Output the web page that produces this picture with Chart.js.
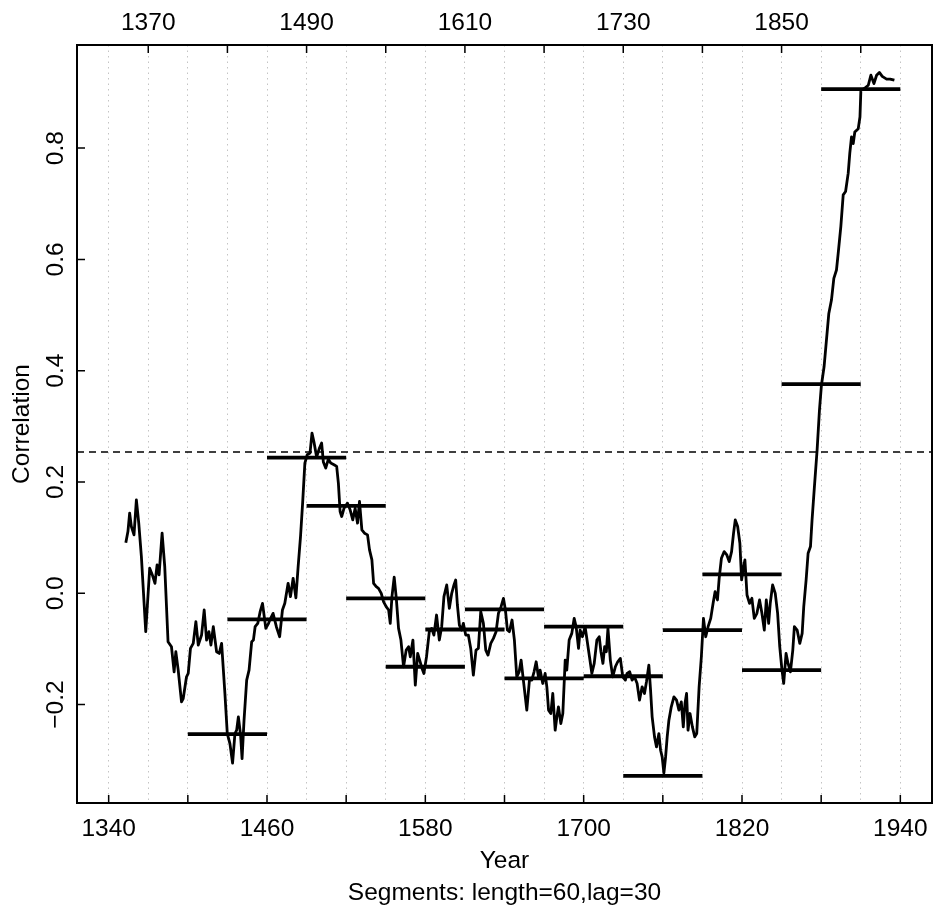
<!DOCTYPE html>
<html>
<head>
<meta charset="utf-8">
<script src="https://cdn.jsdelivr.net/npm/chart.js@4.4.1/dist/chart.umd.min.js"></script>
<style>
  html, body { margin: 0; padding: 0; background: #fff; }
  #wrap { width: 933px; height: 909px; }
</style>
</head>
<body>
<div id="wrap"><canvas id="segChart"></canvas></div>
<script>
// running correlation (year, r)
const years = [
  1353.0, 1354.6, 1355.9, 1357.2, 1359.2, 1361.0, 1362.8, 1364.8, 1368.1, 1371.1,
  1373.1, 1375.1, 1376.7, 1378.2, 1380.5, 1382.5, 1385.0, 1387.6, 1389.6, 1390.9,
  1392.7, 1395.2, 1396.5, 1399.0, 1400.3, 1402.0, 1404.1, 1406.1, 1407.9, 1410.4,
  1412.4, 1414.2, 1416.0, 1417.5, 1419.3, 1421.8, 1423.8, 1425.6, 1428.1, 1429.9,
  1431.9, 1433.9, 1435.7, 1437.0, 1438.3, 1440.0, 1441.1, 1442.6, 1444.6, 1446.4,
  1448.4, 1449.7, 1451.0, 1453.0, 1454.8, 1456.6, 1458.1, 1459.1, 1461.2,
  1462.1, 1464.6, 1467.1, 1469.6, 1471.7, 1473.5, 1476.0, 1477.8, 1479.8, 1481.9,
  1483.6, 1485.4, 1487.0, 1488.7, 1490.5, 1492.6, 1494.1, 1495.6, 1497.6, 1499.6,
  1501.4, 1502.7, 1504.5, 1506.5, 1508.3, 1510.8, 1512.8, 1514.1, 1515.4, 1516.6,
  1518.4, 1521.0, 1523.0, 1525.0, 1526.8, 1528.6, 1530.1, 1531.9, 1533.9, 1536.2,
  1537.7, 1539.5, 1540.8, 1542.8, 1544.5, 1546.6, 1548.3, 1550.3, 1552.2, 1553.4,
  1554.7, 1556.4, 1558.0, 1559.7, 1561.5, 1563.5, 1565.5, 1567.3, 1568.6, 1570.6,
  1572.4, 1574.2,
  1575.7, 1577.5, 1578.9, 1580.9, 1583.0, 1584.8, 1586.5, 1588.5, 1590.6, 1592.4,
  1594.1, 1596.2, 1598.2, 1600.0, 1601.7, 1603.0, 1604.3, 1605.8, 1607.6, 1608.8,
  1610.6, 1612.6, 1614.4, 1616.4, 1618.4, 1620.2, 1622.0, 1624.0, 1625.8, 1627.5,
  1629.6, 1631.6, 1633.6, 1635.4, 1637.4, 1639.2, 1640.7, 1642.2, 1643.7, 1645.7,
  1647.5, 1649.3, 1651.1, 1652.6, 1654.3, 1656.9, 1658.9, 1660.7, 1662.4, 1664.0,
  1665.7, 1667.0, 1669.0, 1670.8, 1672.1, 1673.4, 1675.1, 1676.6, 1678.4, 1679.7,
  1680.9, 1682.7, 1684.2, 1686.0, 1687.2, 1689.0, 1691.0, 1692.8, 1694.3, 1696.1,
  1697.3, 1699.1, 1701.1,
  1704.4, 1706.2, 1708.0, 1710.0, 1711.8, 1713.1, 1714.6, 1715.9, 1717.2, 1718.4,
  1720.2, 1722.0, 1724.0, 1725.8, 1727.8, 1729.6, 1731.6, 1732.9, 1734.9, 1736.7,
  1738.5, 1740.5, 1742.3, 1744.3, 1746.1, 1747.6, 1749.4, 1750.7, 1751.9, 1753.7,
  1755.2, 1757.0, 1758.3, 1759.5, 1760.8, 1762.1, 1763.3, 1764.6, 1766.4, 1768.4,
  1770.4, 1772.2, 1774.0, 1775.5, 1776.8, 1778.0, 1779.1, 1780.6, 1782.4, 1784.2,
  1785.7, 1787.5, 1789.2, 1790.8, 1792.5, 1794.3, 1796.3, 1798.1, 1799.6, 1801.4,
  1802.7, 1804.4, 1806.5, 1808.5, 1810.3, 1812.1, 1813.6, 1814.9, 1816.7, 1818.4,
  1819.7, 1821.2, 1822.2,
  1823.8, 1825.7, 1827.5, 1829.3, 1831.3, 1833.3, 1835.1, 1836.9, 1838.4, 1840.2,
  1841.4, 1843.2, 1845.2, 1847.0, 1848.6, 1850.3, 1851.6, 1853.4, 1854.9, 1856.7,
  1858.5, 1859.7, 1861.8, 1863.8, 1865.6, 1866.8, 1868.6, 1870.1, 1871.9, 1873.1,
  1874.9, 1876.9, 1878.7, 1880.2, 1882.2, 1884.0, 1885.8, 1887.8, 1889.6, 1891.6,
  1892.9, 1894.9, 1896.7, 1898.5, 1900.5, 1901.7, 1903.0, 1904.3, 1905.5, 1908.1,
  1909.4, 1910.1, 1912.7, 1915.7, 1917.7, 1920.0, 1922.0, 1924.1, 1926.3, 1929.6,
  1932.2, 1935.5
];
const corr = [
  0.091, 0.111, 0.144, 0.120, 0.105, 0.168, 0.126, 0.066, -0.069, 0.045,
  0.033, 0.018, 0.051, 0.033, 0.108, 0.048, -0.087, -0.096, -0.141, -0.105,
  -0.138, -0.195, -0.189, -0.150, -0.144, -0.099, -0.090, -0.051, -0.093, -0.075,
  -0.030, -0.084, -0.069, -0.093, -0.060, -0.105, -0.108, -0.090, -0.180, -0.252,
  -0.270, -0.305, -0.252, -0.246, -0.222, -0.255, -0.297, -0.228, -0.156, -0.138,
  -0.087, -0.084, -0.060, -0.054, -0.033, -0.018, -0.045, -0.063, -0.054,
  -0.048, -0.036, -0.060, -0.078, -0.030, -0.018, 0.018, -0.006, 0.027, -0.008,
  0.048, 0.102, 0.162, 0.234, 0.249, 0.252, 0.288, 0.272, 0.245, 0.260,
  0.270, 0.236, 0.225, 0.241, 0.234, 0.231, 0.228, 0.198, 0.147, 0.138,
  0.153, 0.162, 0.150, 0.132, 0.153, 0.126, 0.165, 0.114, 0.108, 0.105,
  0.078, 0.060, 0.018, 0.012, 0.009, 0.000, -0.015, -0.024, -0.030, -0.054,
  -0.006, 0.029, -0.009, -0.063, -0.084, -0.132, -0.102, -0.096, -0.114, -0.084,
  -0.165, -0.108,
  -0.120, -0.135, -0.144, -0.114, -0.069, -0.063, -0.075, -0.039, -0.084, -0.060,
  -0.006, 0.015, -0.027, 0.000, 0.015, 0.024, -0.021, -0.057, -0.066, -0.054,
  -0.075, -0.075, -0.099, -0.147, -0.102, -0.099, -0.033, -0.054, -0.102, -0.111,
  -0.090, -0.081, -0.069, -0.036, -0.024, -0.009, -0.030, -0.066, -0.069, -0.048,
  -0.084, -0.150, -0.141, -0.120, -0.156, -0.210, -0.156, -0.156, -0.141, -0.123,
  -0.150, -0.138, -0.162, -0.144, -0.168, -0.210, -0.216, -0.180, -0.246, -0.222,
  -0.204, -0.234, -0.216, -0.120, -0.138, -0.084, -0.072, -0.045, -0.060, -0.099,
  -0.066, -0.078, -0.060,
  -0.114, -0.144, -0.126, -0.084, -0.078, -0.105, -0.126, -0.096, -0.105, -0.063,
  -0.120, -0.150, -0.132, -0.123, -0.117, -0.150, -0.156, -0.144, -0.141, -0.156,
  -0.150, -0.162, -0.192, -0.168, -0.180, -0.159, -0.129, -0.174, -0.222, -0.258,
  -0.276, -0.252, -0.282, -0.294, -0.323, -0.294, -0.258, -0.228, -0.204, -0.186,
  -0.192, -0.210, -0.195, -0.240, -0.198, -0.180, -0.246, -0.216, -0.240, -0.258,
  -0.252, -0.168, -0.114, -0.045, -0.078, -0.060, -0.045, -0.018, 0.003, -0.012,
  0.027, 0.063, 0.075, 0.069, 0.057, 0.075, 0.108, 0.132, 0.120, 0.090,
  0.024, 0.048, 0.060,
  -0.003, -0.018, -0.009, -0.045, -0.036, -0.012, -0.036, -0.066, -0.012, -0.054,
  -0.018, 0.015, 0.000, -0.036, -0.096, -0.138, -0.162, -0.108, -0.126, -0.141,
  -0.102, -0.060, -0.066, -0.090, -0.072, -0.024, 0.024, 0.072, 0.084, 0.132,
  0.192, 0.257, 0.329, 0.374, 0.407, 0.455, 0.503, 0.527, 0.566, 0.581,
  0.611, 0.659, 0.716, 0.722, 0.755, 0.791, 0.820, 0.808, 0.829, 0.835,
  0.856, 0.904, 0.907, 0.913, 0.931, 0.916, 0.931, 0.936, 0.929, 0.924,
  0.924, 0.922
];

// segments: start year and correlation, length 60, lag 30
const segStart = [1400, 1430, 1460, 1490, 1520, 1550, 1580, 1610, 1640, 1670, 1700, 1730, 1760, 1790, 1820, 1850, 1880];
const segCorr = [-0.253, -0.047, 0.244, 0.157, -0.009, -0.132, -0.065, -0.029, -0.153, -0.060, -0.149, -0.328, -0.066, 0.034, -0.138, 0.376, 0.906];
const segLength = 60;
const critLevel = 0.254; // dashed line

const bottomTicks = [1340, 1400, 1460, 1520, 1580, 1640, 1700, 1760, 1820, 1880, 1940];
const bottomLabels = [1340, 1460, 1580, 1700, 1820, 1940];
const topTicks = [1370, 1430, 1490, 1550, 1610, 1670, 1730, 1790, 1850, 1910];
const topLabels = [1370, 1490, 1610, 1730, 1850];
const yTicks = [-0.2, 0, 0.2, 0.4, 0.6, 0.8];

const xMin = 1316, xMax = 1964;
const yMin = -0.3768, yMax = 0.9853;

const FONT = '"Liberation Sans", Arial, Helvetica, sans-serif';
const FSIZE = 24.5;

const curvePoints = years.map((x, i) => ({ x: x, y: corr[i] }));

const segPoints = [];
segStart.forEach((s, i) => {
  segPoints.push({ x: s, y: segCorr[i] });
  segPoints.push({ x: s + segLength, y: segCorr[i] });
  segPoints.push({ x: s + segLength, y: null }); // break
});

function fmtY(v) {
  return (v < 0 ? '\u2212' : '') + Math.abs(v).toFixed(1);
}

// box, inward ticks and rotated y labels like base R
const framePlugin = {
  id: 'frame',
  afterDraw(chart) {
    const { ctx, chartArea: a, scales } = chart;
    ctx.save();
    ctx.strokeStyle = '#000';
    ctx.lineWidth = 1.5;
    ctx.beginPath();
    scales.x.ticks.forEach(t => {
      const px = scales.x.getPixelForValue(t.value);
      ctx.moveTo(px, a.bottom);
      ctx.lineTo(px, a.bottom - 8);
    });
    scales.x2.ticks.forEach(t => {
      const px = scales.x2.getPixelForValue(t.value);
      ctx.moveTo(px, a.top);
      ctx.lineTo(px, a.top + 8);
    });
    scales.y.ticks.forEach(t => {
      const py = scales.y.getPixelForValue(t.value);
      ctx.moveTo(a.left, py);
      ctx.lineTo(a.left + 8, py);
    });
    ctx.stroke();

    ctx.lineWidth = 2;
    ctx.strokeRect(a.left, a.top, a.right - a.left, a.bottom - a.top);

    ctx.fillStyle = '#000';
    ctx.font = FSIZE + 'px ' + FONT;
    ctx.textAlign = 'center';
    ctx.textBaseline = 'alphabetic';
    scales.y.ticks.forEach(t => {
      const py = scales.y.getPixelForValue(t.value);
      ctx.save();
      ctx.translate(a.left - 14, py);
      ctx.rotate(-Math.PI / 2);
      ctx.fillText(fmtY(t.value), 0, 0);
      ctx.restore();
    });
    ctx.restore();
  }
};

const gridStyle = { drawOnChartArea: true, drawTicks: false, color: '#c4c4c4', lineWidth: 1 };
const gridBorder = { display: false, dash: [1.5, 4] };

function fixX(h) {
  return s => {
    s.height = h;
    s.paddingLeft = 0;
    s.paddingRight = 0;
  };
}

new Chart(document.getElementById('segChart'), {
  type: 'line',
  data: {
    datasets: [
      {
        label: 'running',
        data: curvePoints,
        borderColor: '#000',
        borderWidth: 2.8,
        borderJoinStyle: 'round',
        pointRadius: 0,
        tension: 0,
        fill: false
      },
      {
        label: 'segments',
        data: segPoints,
        borderColor: '#000',
        borderWidth: 3.8,
        pointRadius: 0,
        tension: 0,
        fill: false,
        spanGaps: false
      },
      {
        label: 'crit',
        data: [{ x: xMin, y: critLevel }, { x: xMax, y: critLevel }],
        borderColor: '#000',
        borderWidth: 1.5,
        borderDash: [7, 5],
        pointRadius: 0,
        fill: false
      }
    ]
  },
  options: {
    responsive: true,
    maintainAspectRatio: false,
    animation: false,
    layout: { padding: { left: 0, right: 1, top: 0, bottom: 0 } },
    plugins: {
      legend: { display: false },
      tooltip: { enabled: false }
    },
    scales: {
      x: {
        type: 'linear',
        position: 'bottom',
        min: xMin,
        max: xMax,
        afterBuildTicks: s => { s.ticks = bottomTicks.map(v => ({ value: v })); },
        afterFit: fixX(106),
        grid: gridStyle,
        border: gridBorder,
        ticks: {
          autoSkip: false,
          maxRotation: 0,
          minRotation: 0,
          padding: 12,
          color: '#000',
          font: { family: FONT, size: FSIZE },
          callback: v => bottomLabels.includes(v) ? String(v) : ''
        },
        title: {
          display: true,
          text: ['Year', 'Segments: length=60,lag=30'],
          color: '#000',
          font: { family: FONT, size: FSIZE, lineHeight: 1.3 },
          padding: { top: 0, bottom: 0 }
        }
      },
      x2: {
        type: 'linear',
        position: 'top',
        min: xMin,
        max: xMax,
        afterBuildTicks: s => { s.ticks = topTicks.map(v => ({ value: v })); },
        afterFit: fixX(45),
        grid: gridStyle,
        border: gridBorder,
        ticks: {
          autoSkip: false,
          maxRotation: 0,
          minRotation: 0,
          padding: 7,
          color: '#000',
          font: { family: FONT, size: FSIZE },
          callback: v => topLabels.includes(v) ? String(v) : ''
        }
      },
      y: {
        type: 'linear',
        position: 'left',
        min: yMin,
        max: yMax,
        afterBuildTicks: s => { s.ticks = yTicks.map(v => ({ value: v })); },
        afterFit: s => { s.width = 77; s.paddingTop = 0; s.paddingBottom = 0; },
        grid: { drawOnChartArea: false, drawTicks: false },
        border: { display: false },
        ticks: { display: false },
        title: {
          display: true,
          text: 'Correlation',
          color: '#000',
          font: { family: FONT, size: FSIZE },
          padding: { top: 8, bottom: 0 }
        }
      }
    }
  },
  plugins: [framePlugin]
});
</script>
</body>
</html>
